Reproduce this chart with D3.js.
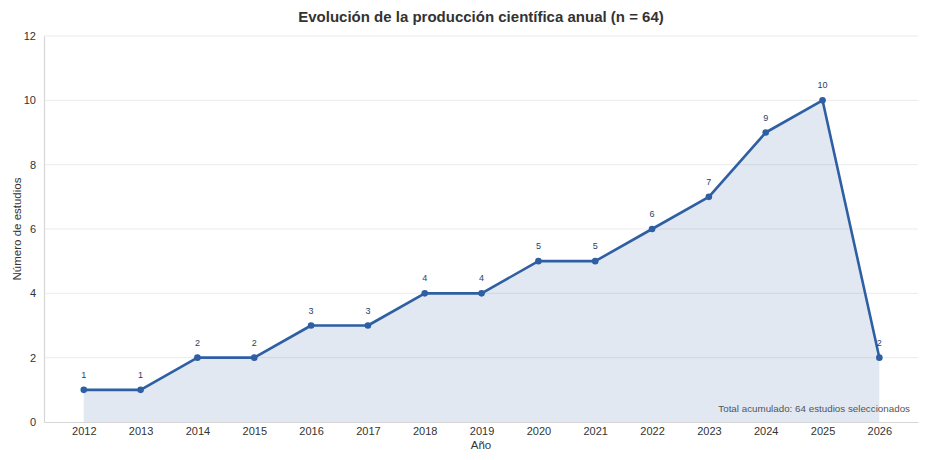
<!DOCTYPE html>
<html>
<head>
<meta charset="utf-8">
<script src="https://cdn.jsdelivr.net/npm/d3@7"></script>
<style>
  body { margin: 0; background: #fff; }
  text { font-family: "Liberation Sans", Arial, sans-serif; }
</style>
</head>
<body>
<script>
//chart data
var years = [2012, 2013, 2014, 2015, 2016, 2017, 2018, 2019, 2020, 2021, 2022, 2023, 2024, 2025, 2026];
var counts = [1, 1, 2, 2, 3, 3, 4, 4, 5, 5, 6, 7, 9, 10, 2];
var yTicks = [0, 2, 4, 6, 8, 10, 12];
var titleText = "Evolución de la producción científica anual (n = 64)";
var noteText = "Total acumulado: 64 estudios seleccionados";

window.onload = drawChart();

function drawChart(){

    var width = 930,
        height = 460;
    var margin = {top: 36, right: 12, bottom: 38, left: 44};

    var svg = d3.select("body")
        .append("svg")
        .attr("width", width)
        .attr("height", height);

    var data = years.map(function(y, i){ return {year: y, n: counts[i]}; });

    var x = d3.scaleLinear()
        .domain([2011.3, 2026.68])
        .range([margin.left, width - margin.right]);

    var y = d3.scaleLinear()
        .domain([0, 12])
        .range([height - margin.bottom, margin.top]);

    //grid lines
    svg.append("g")
        .selectAll("line")
        .data(yTicks.slice(1))
        .enter()
        .append("line")
        .attr("x1", margin.left)
        .attr("x2", width - margin.right)
        .attr("y1", function(d){ return y(d); })
        .attr("y2", function(d){ return y(d); })
        .attr("stroke", "#ebebeb")
        .attr("stroke-width", 1);

    //area under the line
    var area = d3.area()
        .x(function(d){ return x(d.year); })
        .y0(y(0))
        .y1(function(d){ return y(d.n); });

    svg.append("path")
        .datum(data)
        .attr("d", area)
        .attr("fill", "#2e5fa3")
        .attr("fill-opacity", 0.14);

    //axes
    var xAxis = d3.axisBottom(x)
        .tickValues(years)
        .tickFormat(d3.format("d"))
        .tickSize(0)
        .tickPadding(5);

    var yAxis = d3.axisLeft(y)
        .tickValues(yTicks)
        .tickSize(0)
        .tickPadding(8);

    var gx = svg.append("g")
        .attr("transform", "translate(0," + y(0) + ")")
        .call(xAxis);

    var gy = svg.append("g")
        .attr("transform", "translate(" + margin.left + ",0)")
        .call(yAxis);

    [gx, gy].forEach(function(g){
        g.select(".domain").attr("stroke", "#d6d6d6").attr("stroke-width", 1.2);
        g.selectAll("text")
            .attr("fill", "#333")
            .style("font-size", "11px");
    });

    //line
    var line = d3.line()
        .x(function(d){ return x(d.year); })
        .y(function(d){ return y(d.n); });

    svg.append("path")
        .datum(data)
        .attr("d", line)
        .attr("fill", "none")
        .attr("stroke", "#2e5fa3")
        .attr("stroke-width", 2.6)
        .attr("stroke-linejoin", "round");

    svg.append("g")
        .selectAll("circle")
        .data(data)
        .enter()
        .append("circle")
        .attr("cx", function(d){ return x(d.year); })
        .attr("cy", function(d){ return y(d.n); })
        .attr("r", 3.3)
        .attr("fill", "#2e5fa3");

    //value labels
    svg.append("g")
        .selectAll("text")
        .data(data)
        .enter()
        .append("text")
        .attr("x", function(d){ return x(d.year); })
        .attr("y", function(d){ return y(d.n) - 12; })
        .attr("text-anchor", "middle")
        .attr("fill", "#2c3e6b")
        .style("font-size", "9px")
        .text(function(d){ return d.n; });

    //title
    svg.append("text")
        .attr("x", 481)
        .attr("y", 22)
        .attr("text-anchor", "middle")
        .attr("fill", "#333")
        .style("font-size", "15px")
        .style("font-weight", "bold")
        .text(titleText);

    //axis titles
    svg.append("text")
        .attr("x", 481)
        .attr("y", 449)
        .attr("text-anchor", "middle")
        .attr("fill", "#333")
        .style("font-size", "11.5px")
        .text("Año");

    svg.append("text")
        .attr("transform", "translate(21," + ((margin.top + height - margin.bottom) / 2) + ") rotate(-90)")
        .attr("text-anchor", "middle")
        .attr("fill", "#333")
        .style("font-size", "11.5px")
        .text("Número de estudios");

    //note
    svg.append("text")
        .attr("x", 910)
        .attr("y", 412)
        .attr("text-anchor", "end")
        .attr("fill", "#555")
        .style("font-size", "9.8px")
        .text(noteText);
};
</script>
</body>
</html>
